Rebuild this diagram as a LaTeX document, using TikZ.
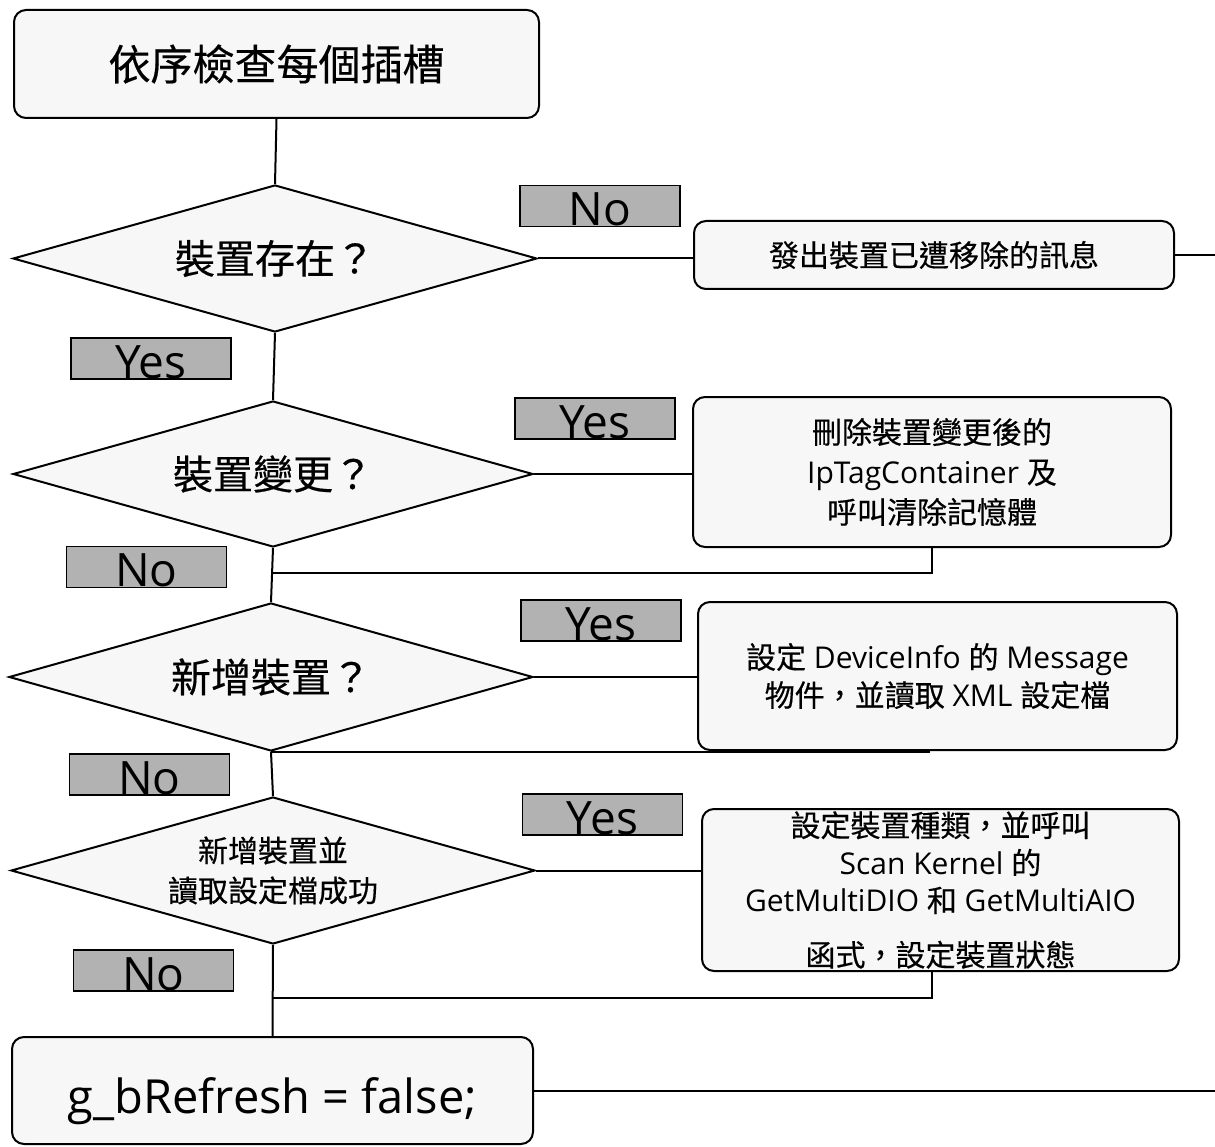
\documentclass[tikz,border=0pt]{standalone}
\usepackage{fontspec}
\setmainfont{Open Sans}
\newfontfamily\cjkfont[FakeBold=0.4]{Noto Sans CJK TC}
\newcommand\zh[1]{{\cjkfont #1}}
\usetikzlibrary{shapes.geometric,calc}
\definecolor{boxfill}{HTML}{F7F7F7}
\definecolor{labfill}{HTML}{B2B2B2}
\begin{document}
\begin{tikzpicture}[x=1pt,y=-1pt,
  box/.style={draw, line width=2pt, fill=boxfill, rounded corners=12pt, inner sep=0pt, align=center},
  dia/.style={draw, diamond, shape aspect=3.56, line width=2pt, fill=boxfill, inner sep=0pt, align=center},
  lab/.style={draw, line width=1.5pt, fill=labfill, inner sep=0pt, minimum width=160pt, minimum height=41pt, text height=39pt, text depth=0pt, font=\fontsize{46}{46}\selectfont},
  conn/.style={line width=2pt}
]
\useasboundingbox (0,0) rectangle (1215,1147);
\coordinate (rim) at (1215,0);

% main column
\node[box, minimum width=525pt, minimum height=108pt, font=\fontsize{42}{50}\cjkfont] (start) at (276.5,64) {依序檢查每個插槽};
\node[dia, minimum width=524pt, minimum height=147pt, font=\fontsize{40}{48}\cjkfont] (d1) at (275,258.5) {裝置存在？};
\node[dia, minimum width=520pt, minimum height=146pt, font=\fontsize{40}{48}\cjkfont] (d2) at (273,474) {裝置變更？};
\node[dia, minimum width=524pt, minimum height=148pt, font=\fontsize{40}{48}\cjkfont] (d3) at (271,677) {新增裝置？};
\node[dia, minimum width=524pt, minimum height=147pt, font=\fontsize{30}{40}\cjkfont] (d4) at (273,870.5) {新增裝置並\\讀取設定檔成功};
\node[box, minimum width=521pt, minimum height=107pt, text height=45pt, text depth=0pt, font=\fontsize{47}{50}\selectfont] (fin) at (272.5,1090.5) {g\_bRefresh = false;};

% right column
\node[box, minimum width=480pt, minimum height=68pt, font=\fontsize{30}{38}\cjkfont] (rb1) at (934,255) {發出裝置已遭移除的訊息};
\node[box, minimum width=478pt, minimum height=150pt, font=\fontsize{30}{40}\selectfont] (rb2) at (932,472) {\zh{刪除裝置變更後的}\\IpTagContainer \zh{及}\\\zh{呼叫清除記憶體}};
\node[box, minimum width=479pt, minimum height=148pt, font=\fontsize{30}{38}\selectfont] (rb3) at (937.5,676) {\zh{設定} DeviceInfo \zh{的} Message\\\zh{物件，並讀取} XML \zh{設定檔}};
\node[box, minimum width=477pt, minimum height=162pt, font=\fontsize{30}{37.5}\selectfont] (rb4) at (940.5,890) {\zh{設定裝置種類，並呼叫}\\Scan Kernel \zh{的}\\GetMultiDIO \zh{和} GetMultiAIO\\[17pt]\zh{函式，設定裝置狀態}};

% connectors
\draw[conn] (start.south) -- (d1.north);
\draw[conn] (d1.east) -- (d1.east -| rb1.west);
\draw[conn] (rb1.east) -- (rb1.east -| rim);
\draw[conn] (d1.south) -- (d2.north);
\draw[conn] (d2.east) -- (d2.east -| rb2.west);
\coordinate (j2) at (273,573);
\draw[conn] (rb2.south) |- (j2);
\draw[conn] (d2.south) -- (d3.north);
\draw[conn] (d3.east) -- (d3.east -| rb3.west);
\coordinate (k3) at (930,752);
\draw[conn] (k3) -- (k3 -| d3.south);
\draw[conn] (d3.south) -- (d4.north);
\draw[conn] (d4.east) -- (d4.east -| rb4.west);
\coordinate (j4) at (273,998);
\draw[conn] ([xshift=-9pt]rb4.south) |- (j4);
\draw[conn] (d4.south) -- (fin.north);
\draw[conn] (fin.east) -- (fin.east -| rim);

% labels
\node[lab] (l1) at (600,206) {No};
\node[lab] (l2) at (151,358.5) {Yes};
\node[lab] (l3) at (595,418.5) {Yes};
\node[lab] (l4) at (146.5,567) {No};
\node[lab] (l5) at (601,620.5) {Yes};
\node[lab] (l6) at (149.5,774.5) {No};
\node[lab] (l7) at (602.5,814.5) {Yes};
\node[lab] (l8) at (153.5,970.5) {No};
\end{tikzpicture}
\end{document}
